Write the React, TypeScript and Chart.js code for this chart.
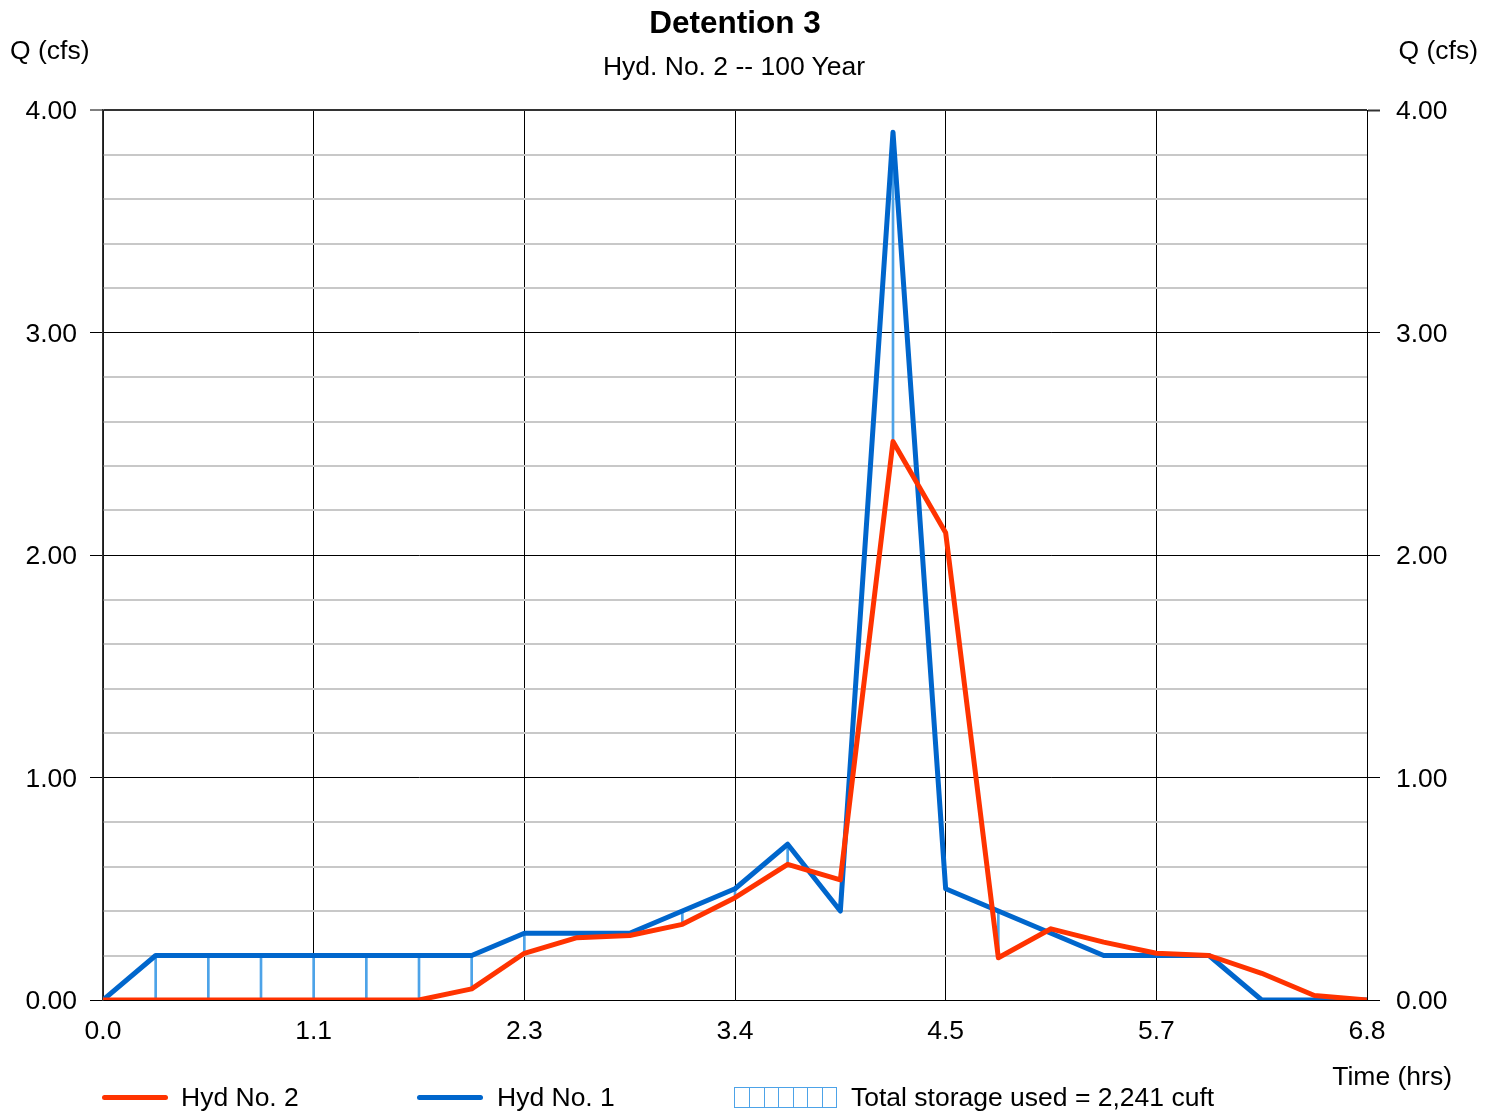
import React, { useEffect, useRef } from "react";
import { Chart, registerables } from "chart.js";

Chart.register(...registerables);

// Time (hrs) at each hydrograph ordinate
const times = [
  0, 0.2833, 0.5667, 0.85, 1.1333, 1.4167, 1.7, 1.9833, 2.2667, 2.55, 2.8333, 3.1167, 3.4,
  3.6833, 3.9667, 4.25, 4.5333, 4.8167, 5.1, 5.3833, 5.6667, 5.95, 6.2333, 6.5167, 6.8,
];
// Hyd No. 1 (inflow), cfs
const hyd1 = [
  0, 0.2, 0.2, 0.2, 0.2, 0.2, 0.2, 0.2, 0.3, 0.3, 0.3, 0.4, 0.5,
  0.7, 0.4, 3.9, 0.5, 0.4, 0.3, 0.2, 0.2, 0.2, 0, 0, 0,
];
// Hyd No. 2 (outflow), cfs
const hyd2 = [
  0, 0, 0, 0, 0, 0, 0, 0.05, 0.21, 0.28, 0.29, 0.34, 0.46,
  0.61, 0.54, 2.51, 2.1, 0.19, 0.32, 0.26, 0.21, 0.2, 0.12, 0.02, 0,
];
const xTickValues = [0, 1.1333, 2.2667, 3.4, 4.5333, 5.6667, 6.8];
const yTickValues = [
  0, 0.2, 0.4, 0.6, 0.8, 1, 1.2, 1.4, 1.6, 1.8, 2, 2.2, 2.4, 2.6, 2.8, 3, 3.2, 3.4, 3.6, 3.8, 4,
];
const titleText = "Detention 3";
const subtitleText = "Hyd. No. 2 -- 100 Year";
const yAxisLabel = "Q (cfs)";
const xAxisLabel = "Time (hrs)";
const legendLabels = ["Hyd No. 2", "Hyd No. 1", "Total storage used = 2,241 cuft"];

const RED = "#ff3300";
const BLUE = "#0066cc";
const HATCH = "#4da3e8";
const FONT = "'Liberation Sans', Arial, sans-serif";
const FS = 26.5;

const isMajor = (v: number) => Math.abs(v - Math.round(v)) < 1e-6;

export default function App() {
  const ref = useRef<HTMLCanvasElement | null>(null);

  useEffect(() => {
    if (!ref.current) return;
    const storage = times
      .map((t, i) => (hyd1[i] > hyd2[i] ? { x: t, y: [hyd2[i], hyd1[i]] } : null))
      .filter((d) => d !== null);

    const yTicksBuild = (scale: any) => {
      scale.ticks = yTickValues.map((v) => ({ value: v }));
    };
    const yLabel = (v: any) => (isMajor(Number(v)) ? Number(v).toFixed(2) : "");

    const chart = new Chart(ref.current, {
      type: "line",
      data: {
        datasets: [
          {
            type: "line",
            label: legendLabels[0],
            data: times.map((t, i) => ({ x: t, y: hyd2[i] })),
            borderColor: RED,
            backgroundColor: RED,
            borderWidth: 5,
            pointRadius: 0,
            borderJoinStyle: "round",
            borderCapStyle: "round",
            tension: 0,
            order: 0,
            yAxisID: "y",
          },
          {
            type: "line",
            label: legendLabels[1],
            data: times.map((t, i) => ({ x: t, y: hyd1[i] })),
            borderColor: BLUE,
            backgroundColor: BLUE,
            borderWidth: 5,
            pointRadius: 0,
            borderJoinStyle: "round",
            borderCapStyle: "round",
            tension: 0,
            order: 1,
            yAxisID: "y",
          },
          {
            type: "bar",
            label: legendLabels[2],
            data: storage as any,
            backgroundColor: HATCH,
            borderWidth: 0,
            barThickness: 2,
            order: 2,
            yAxisID: "y",
          } as any,
        ],
      },
      options: {
        responsive: false,
        animation: false,
        events: [],
        layout: { padding: { top: 110, left: 0, right: 0, bottom: 0 } },
        plugins: {
          legend: { display: false },
          title: { display: false },
          tooltip: { enabled: false },
        },
        scales: {
          x: {
            type: "linear",
            min: 0,
            max: 6.8,
            offset: false,
            afterBuildTicks: (scale: any) => {
              scale.ticks = xTickValues.map((v) => ({ value: v }));
            },
            afterFit: (scale: any) => {
              scale.height = 112;
            },
            ticks: {
              autoSkip: false,
              maxRotation: 0,
              padding: 16,
              color: "#000",
              font: { family: FONT, size: FS },
              callback: (v: any) => Number(v).toFixed(1),
            },
            grid: {
              color: "#000",
              lineWidth: 1,
              drawTicks: false,
              offset: false,
            },
            border: { display: true, color: "#000", width: 1 },
          },
          y: {
            type: "linear",
            position: "left",
            min: 0,
            max: 4,
            afterBuildTicks: yTicksBuild,
            afterFit: (scale: any) => {
              scale.width = 103;
            },
            ticks: {
              autoSkip: false,
              padding: 13,
              labelOffset: 2,
              color: "#000",
              font: { family: FONT, size: FS },
              callback: yLabel,
            },
            grid: {
              drawTicks: true,
              tickLength: 13,
              color: (ctx: any) =>
                ctx.tick && isMajor(ctx.tick.value) ? (ctx.tick.value === 4 ? "#333" : "#000") : "#c8c8c8",
              lineWidth: (ctx: any) =>
                ctx.tick && isMajor(ctx.tick.value) ? (ctx.tick.value === 4 ? 2 : 1) : 2,
              tickColor: (ctx: any) =>
                ctx.tick && isMajor(ctx.tick.value) ? "#000" : "rgba(0,0,0,0)",
              tickWidth: 1,
            },
            border: { display: true, color: "#333", width: 1.5 },
          },
          y2: {
            type: "linear",
            position: "right",
            min: 0,
            max: 4,
            afterBuildTicks: yTicksBuild,
            afterFit: (scale: any) => {
              scale.width = 129;
            },
            ticks: {
              autoSkip: false,
              padding: 16,
              labelOffset: 2,
              color: "#000",
              font: { family: FONT, size: FS },
              callback: yLabel,
            },
            grid: {
              drawOnChartArea: false,
              drawTicks: true,
              tickLength: 13,
              tickColor: (ctx: any) =>
                ctx.tick && isMajor(ctx.tick.value) ? (ctx.tick.value === 4 ? "#333" : "#000") : "rgba(0,0,0,0)",
              tickWidth: (ctx: any) => (ctx.tick && ctx.tick.value === 4 ? 2 : 1),
            },
            border: { display: true, color: "#000", width: 1 },
          },
        },
      },
    });
    return () => chart.destroy();
  }, []);

  const text: React.CSSProperties = {
    position: "absolute",
    fontFamily: FONT,
    fontSize: FS,
    color: "#000",
    whiteSpace: "nowrap",
    lineHeight: "30px",
  };

  const hatchLines = [1, 2, 3, 4, 5, 6];

  return (
    <div
      style={{
        position: "absolute",
        left: 0,
        top: 0,
        width: 1496,
        height: 1112,
        background: "#fff",
        overflow: "hidden",
      }}
    >
      <canvas ref={ref} width={1496} height={1112} style={{ position: "absolute", left: 0, top: 0 }} />
      <div style={{ ...text, left: 0, width: 1470, top: 4, textAlign: "center", fontWeight: "bold", fontSize: 31.5, lineHeight: "36px" }}>
        {titleText}
      </div>
      <div style={{ ...text, left: 0, width: 1468, top: 51, textAlign: "center" }}>{subtitleText}</div>
      <div style={{ ...text, left: 10, top: 35 }}>{yAxisLabel}</div>
      <div style={{ ...text, right: 1496 - 1478, top: 35 }}>{yAxisLabel}</div>
      <div style={{ ...text, right: 1496 - 1452, top: 1061 }}>{xAxisLabel}</div>

      <div style={{ position: "absolute", left: 102, top: 1095, width: 66, height: 5, borderRadius: 3, background: RED }} />
      <div style={{ ...text, left: 181, top: 1082 }}>{legendLabels[0]}</div>
      <div style={{ position: "absolute", left: 417, top: 1095, width: 66, height: 5, borderRadius: 3, background: BLUE }} />
      <div style={{ ...text, left: 497, top: 1082 }}>{legendLabels[1]}</div>
      <div
        style={{
          position: "absolute",
          left: 734,
          top: 1087,
          width: 101,
          height: 19,
          border: `1px solid ${HATCH}`,
          boxSizing: "content-box",
          background: "#fff",
        }}
      >
        {hatchLines.map((k) => (
          <div
            key={k}
            style={{ position: "absolute", left: Math.round((k * 101) / 7), top: 0, width: 1, height: 19, background: HATCH }}
          />
        ))}
      </div>
      <div style={{ ...text, left: 851, top: 1082 }}>{legendLabels[2]}</div>
    </div>
  );
}
